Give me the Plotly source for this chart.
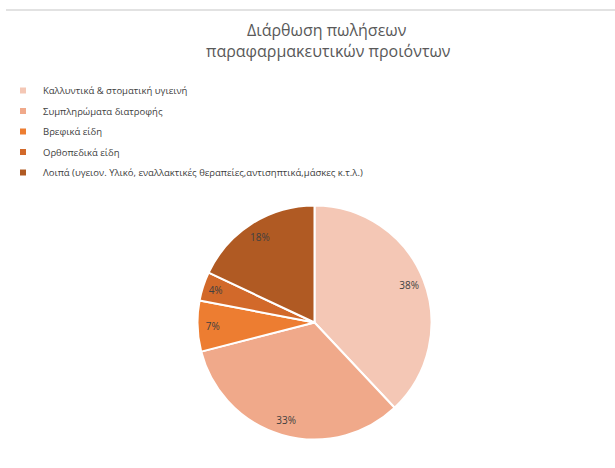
import plotly.graph_objects as go

labels = ["Καλλυντικά & στοματική υγιεινή", "Συμπληρώματα διατροφής", "Βρεφικά είδη",
          "Ορθοπεδικά είδη", "Λοιπά (υγειον. Υλικό, εναλλακτικές θεραπείες,αντισηπτικά,μάσκες κ.τ.λ.)"]
values = [38, 33, 7, 4, 18]
colors = ["#F4C7B5", "#F0A98A", "#ED7D31", "#D2692A", "#B05A23"]
title_lines = ["Διάρθωση πωλήσεων", "παραφαρμακευτικών προιόντων"]

W, H = 615, 468
cx, cy, R = 314.5, 322.5, 117
dom_x = [(cx - R) / W, (cx + R) / W]
dom_y = [(H - cy - R) / H, (H - cy + R) / H]

fig = go.Figure()
fig.add_trace(go.Pie(
    labels=labels, values=values, sort=False, direction="clockwise", rotation=0,
    marker=dict(colors=colors, line=dict(color="white", width=2)),
    textinfo="none", hoverinfo="label+percent", showlegend=False,
    domain=dict(x=dom_x, y=dom_y),
))
fig.add_trace(go.Pie(
    labels=labels, values=values, sort=False, direction="clockwise", rotation=0,
    hole=0.74, showlegend=False,
    marker=dict(colors=["rgba(0,0,0,0)"] * 5, line=dict(width=0)),
    textinfo="percent", texttemplate="%{percent:.0%}", textposition="inside",
    insidetextorientation="horizontal",
    textfont=dict(size=10, color="#404040", family="Open Sans"),
    hoverinfo="skip",
    domain=dict(x=dom_x, y=dom_y),
))
# legend entries (small square keys like the original)
for i, (lab, col) in enumerate(zip(labels, colors)):
    fig.add_trace(go.Scatter(
        x=[None], y=[None], mode="markers", name=lab, legendgroup=f"g{i}",
        marker=dict(symbol="square", size=6, color=col), hoverinfo="skip",
    ))

fig.update_xaxes(visible=False)
fig.update_yaxes(visible=False)
fig.update_layout(
    width=W, height=H, margin=dict(l=0, r=0, t=0, b=0),
    paper_bgcolor="white", plot_bgcolor="white",
    font=dict(family="Open Sans", color="#404040"),
    showlegend=True,
    legend=dict(x=3 / W, y=1 - 76 / H, xanchor="left", yanchor="top",
                font=dict(size=9.5, color="#404040"), traceorder="grouped",
                tracegroupgap=1.5, itemwidth=30,
                bgcolor="rgba(0,0,0,0)"),
    annotations=[
        dict(text=title_lines[0], x=327 / W, y=1 - 30 / H, xref="paper", yref="paper",
             xanchor="center", yanchor="middle", showarrow=False,
             font=dict(size=16, color="#595959", family="Open Sans")),
        dict(text=title_lines[1], x=328 / W, y=1 - 51 / H, xref="paper", yref="paper",
             xanchor="center", yanchor="middle", showarrow=False,
             font=dict(size=16, color="#595959", family="Open Sans")),
    ],
    shapes=[dict(type="line", xref="paper", yref="paper",
                 x0=6 / W, x1=1, y0=1 - 10 / H, y1=1 - 10 / H,
                 line=dict(color="#D9D9D9", width=1.5))],
)

fig.write_html("out.html")
